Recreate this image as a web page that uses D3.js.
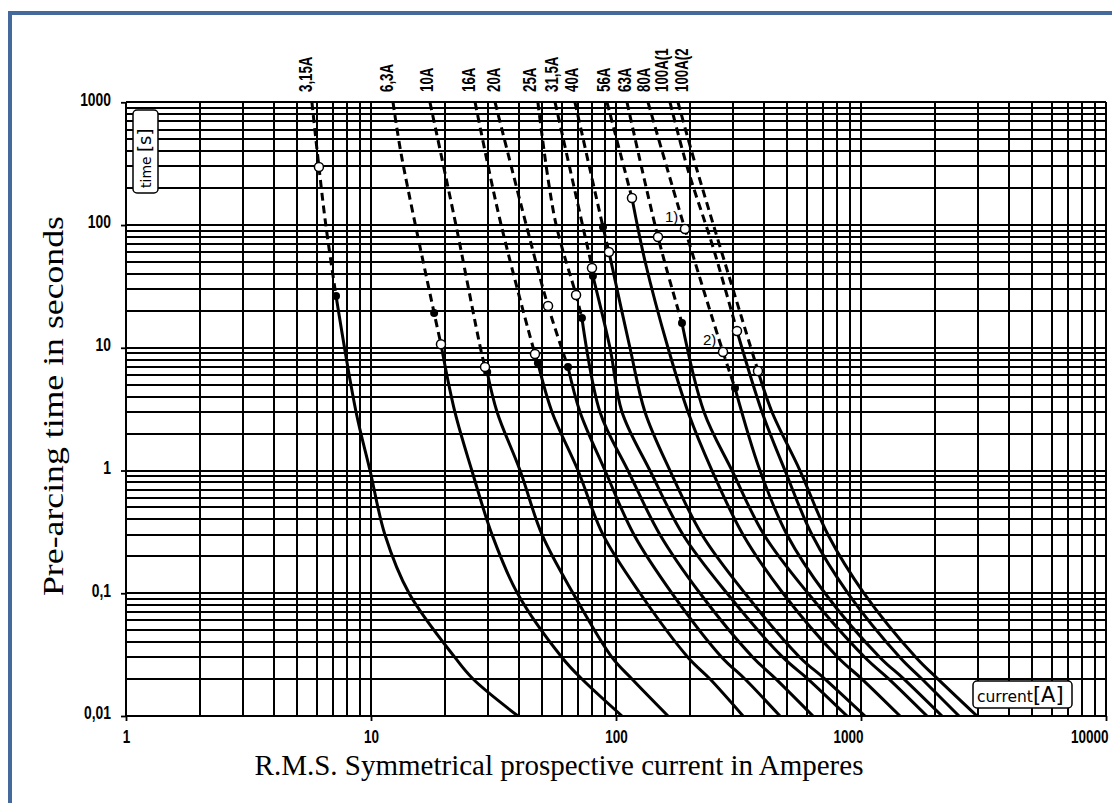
<!DOCTYPE html>
<html>
<head>
<meta charset="utf-8">
<script src="https://cdn.jsdelivr.net/npm/d3@7"></script>
<style>
  html, body { margin: 0; padding: 0; background: #fff; }
  svg { display: block; }
</style>
</head>
<body>
<svg id="chart" width="1112" height="803"></svg>
<script>
// Pre-arcing time / current characteristics of fuse-links, points as [current A, time s]
const fuse_3_15A = [[5.74,1000],[6.13,297],[6.54,100],[7.2,26.4],[8.69,3],[9.91,1],[11.4,0.3],[14.3,0.1],[22.0,0.03],[26.1,0.02],[39.8,0.01]];
const fuse_6_3A  = [[12.3,1000],[13.3,372],[18.1,19.2],[19.3,10.7],[22.0,3],[25.8,1],[31.2,0.3],[39.6,0.1],[60.2,0.03],[72.6,0.02],[105.8,0.01]];
const fuse_10A   = [[17.4,1000],[22.0,110],[29.2,6.97],[29.8,6.35],[32.7,3],[40.6,1],[49.9,0.3],[66.8,0.1],[96.3,0.03],[116.2,0.02],[163,0.01]];
const fuse_16A   = [[26.6,1000],[33.6,110],[46.7,8.90],[48.0,7.52],[54.8,3],[70.0,1],[88.5,0.3],[125.3,0.1],[196.8,0.03],[242,0.02],[330,0.01]];
const fuse_20A   = [[32.1,1000],[43.2,96.9],[52.8,21.9],[63.7,6.97],[71.3,3],[90.2,1],[118.4,0.3],[169.3,0.1],[270.8,0.03],[336,0.02],[467,0.01]];
const fuse_25A   = [[48.0,1000],[56.4,110],[68.7,26.9],[72.6,17.5],[86.0,3],[111.9,1],[151.2,0.3],[220.2,0.1],[362.4,0.03],[450,0.02],[637,0.01]];
const fuse_31_5A = [[56.4,1000],[73.3,96.4],[79.8,44.7],[80.5,38.4],[94.5,10],[105.8,3],[137.6,1],[187.7,0.3],[283.9,0.1],[480.4,0.03],[607.7,0.02],[877,0.01]];
const fuse_40A   = [[68.0,1000],[88.5,96.4],[93.6,60.3],[114.0,10],[131.3,3],[166.1,1],[224.4,0.3],[336,0.1],[563.6,0.03],[713,0.02],[1038,0.01]];
const fuse_56A   = [[91.9,1000],[116.2,166.1],[131.6,50],[163,10],[196.8,3],[246.5,1],[330,0.3],[480.4,0.1],[805.5,0.03],[1009,0.02],[1443,0.01]];
const fuse_63A   = [[110.9,1000],[148.4,79.9],[185.9,15.9],[228.7,3],[297.5,1],[401.9,0.3],[607.7,0.1],[1038,0.03],[1301,0.02],[1859,0.01]];
const fuse_80A   = [[135.1,1000],[191.2,92.8],[273.4,9.24],[306,4.70],[387,1],[498.9,0.3],[713,0.1],[1195,0.03],[1498,0.02],[2141,0.01]];
const fuse_100A_1 = [[166.1,1000],[196.8,280.8],[248.8,66.2],[311.8,13.7],[394.4,3],[489.6,1],[631,0.3],[885,0.1],[1443,0.03],[1774,0.02],[2512,0.01]];
const fuse_100A_2 = [[179.1,1000],[214.1,280.8],[379.8,6.47],[433.2,3],[563.6,1],[733.3,0.3],[1029,0.1],[1677,0.03],[2062,0.02],[2976,0.01]];

const fuseCurves = [fuse_3_15A, fuse_6_3A, fuse_10A, fuse_16A, fuse_20A, fuse_25A, fuse_31_5A,
                    fuse_40A, fuse_56A, fuse_63A, fuse_80A, fuse_100A_1, fuse_100A_2];
const fuseLabels = ["3,15A","6,3A","10A","16A","20A","25A","31,5A","40A","56A","63A","80A","100A(1","100A(2"];
// current under which each rating label stands
const labelCurrents = [5.77,12.3,17.9,26.6,33.6,47.2,57.8,69.9,94.9,114.6,137.7,163.4,196.8];
// last point of the dashed (upper) stretch of each curve
const dashedTo = [3,3,3,3,3,3,3,2,1,2,3,3,2];
// points of each curve marked with an open circle / a filled dot
const openAt   = [[1],[3],[2],[2],[2],[2],[2],[2],[1],[1],[1,2],[3],[2]];
const filledAt = [[3],[2],[3],[3],[3],[3],[3],[1],[],[2],[3],[],[]];

const xMajor = [1,10,100,1000,10000];
const xTickLabels = ["1","10","100","1000","10000"];
const yMajor = [1000,100,10,1,0.1,0.01];
const yTickLabels = ["1000","100","10","1","0,1","0,01"];

const svg = d3.select("#chart");
const W = 1112, H = 803;
svg.append("rect").attr("width", W).attr("height", H).attr("fill", "#fff");

// blue frame
svg.append("rect")
  .attr("x", 10).attr("y", 13).attr("width", 1130).attr("height", 820)
  .attr("fill", "none").attr("stroke", "#46699c").attr("stroke-width", 4);

const x = d3.scaleLog().domain([1, 10000]).range([126, 1106]);
const y = d3.scaleLog().domain([0.01, 1000]).range([716, 102.3]);

const grid = svg.append("g").attr("stroke", "#000").attr("stroke-width", 1.8).attr("shape-rendering", "crispEdges");
grid.selectAll("line.v").data(x.ticks()).join("line")
  .attr("class", "v")
  .attr("x1", d => Math.round(x(d))).attr("x2", d => Math.round(x(d)))
  .attr("y1", y(1000)).attr("y2", y(0.01));
grid.selectAll("line.h").data(y.ticks()).join("line")
  .attr("class", "h")
  .attr("x1", x(1)).attr("x2", x(10000))
  .attr("y1", d => Math.round(y(d))).attr("y2", d => Math.round(y(d)));

// axes: short outer ticks and condensed labels
const tickFont = "'Liberation Sans', Arial, sans-serif";
const squeeze = 0.73;
const yAxis = svg.append("g").attr("transform", `translate(${x(1)},0)`)
  .call(d3.axisLeft(y).tickValues(yMajor).tickSize(5).tickPadding(0)
        .tickFormat((d, i) => yTickLabels[i]));
yAxis.select(".domain").remove();
yAxis.selectAll(".tick line").attr("stroke", "#000").attr("stroke-width", 1.8);
yAxis.selectAll(".tick text")
  .attr("font-family", tickFont).attr("font-weight", "bold").attr("font-size", 19)
  .attr("fill", "#000").attr("text-anchor", "end")
  .attr("x", -15 / squeeze).attr("dy", "0.15em")
  .attr("transform", `scale(${squeeze},1)`);

const xAxis = svg.append("g").attr("transform", `translate(0,${y(0.01)})`)
  .call(d3.axisBottom(x).tickValues(xMajor).tickSize(5).tickPadding(0)
        .tickFormat((d, i) => xTickLabels[i]));
xAxis.select(".domain").remove();
xAxis.selectAll(".tick line").attr("stroke", "#000").attr("stroke-width", 1.8);
xAxis.selectAll(".tick text")
  .attr("font-family", tickFont).attr("font-weight", "bold").attr("font-size", 18.5)
  .attr("fill", "#000").attr("y", 27).attr("dy", 0)
  .attr("x", (d, i) => i >= 3 ? 2 / squeeze : 0)
  .attr("transform", `scale(${squeeze},1)`)
  .attr("text-anchor", (d, i) => i >= 3 ? "end" : "middle");

// fuse curves
const line = d3.line().x(d => x(d[0])).y(d => y(d[1])).curve(d3.curveCatmullRom.alpha(0.5));
const curves = svg.append("g").attr("fill", "none").attr("stroke", "#000").attr("stroke-width", 3);
fuseCurves.forEach((pts, i) => {
  curves.append("path").attr("d", line(pts.slice(0, dashedTo[i] + 1)))
    .attr("stroke-dasharray", "8,5");
  curves.append("path").attr("d", line(pts.slice(dashedTo[i])));
});

const marks = svg.append("g");
fuseCurves.forEach((pts, i) => {
  filledAt[i].forEach(k => marks.append("circle")
    .attr("cx", x(pts[k][0])).attr("cy", y(pts[k][1])).attr("r", 4).attr("fill", "#000"));
  openAt[i].forEach(k => marks.append("circle")
    .attr("cx", x(pts[k][0])).attr("cy", y(pts[k][1])).attr("r", 4.5)
    .attr("fill", "#fff").attr("stroke", "#000").attr("stroke-width", 1.5));
});

// rating labels above the grid
svg.append("g").selectAll("text").data(fuseLabels).join("text")
  .attr("transform", (d, i) => `translate(${x(labelCurrents[i])},92) rotate(-90) scale(0.7,1)`)
  .attr("font-family", tickFont).attr("font-weight", "bold").attr("font-size", 19).attr("fill", "#000")
  .text(d => d);

// footnote marks
svg.append("text").attr("x", 665).attr("y", 222).attr("font-family", tickFont)
  .attr("font-size", 15).text("1)");
svg.append("text").attr("x", 703).attr("y", 345).attr("font-family", tickFont)
  .attr("font-size", 15).text("2)");

// quantity boxes
const boxFont = "'DejaVu Sans', sans-serif";
svg.append("rect").attr("x", 133).attr("y", 110).attr("width", 25).attr("height", 83)
  .attr("rx", 4).attr("fill", "#fff").attr("stroke", "#000").attr("stroke-width", 1.5);
const tt = svg.append("text").attr("transform", "translate(151,188) rotate(-90)")
  .attr("font-family", boxFont).attr("fill", "#000");
tt.append("tspan").attr("font-size", 14).text("time ");
tt.append("tspan").attr("font-size", 18).text("[s]");

svg.append("rect").attr("x", 973).attr("y", 681).attr("width", 99).attr("height", 27)
  .attr("rx", 4).attr("fill", "#fff").attr("stroke", "#000").attr("stroke-width", 1.5);
const ct = svg.append("text").attr("x", 977).attr("y", 702)
  .attr("font-family", boxFont).attr("fill", "#000");
ct.append("tspan").attr("font-size", 15.5).text("current");
ct.append("tspan").attr("font-size", 21).text("[A]");

// axis titles
const serif = "'Liberation Serif', 'Times New Roman', serif";
svg.append("text").attr("x", 559).attr("y", 775).attr("text-anchor", "middle")
  .attr("font-family", serif).attr("font-size", 29).attr("fill", "#000")
  .text("R.M.S. Symmetrical prospective current in Amperes");
svg.append("text").attr("transform", "translate(63,406) rotate(-90)").attr("text-anchor", "middle")
  .attr("font-family", serif).attr("font-size", 30).attr("fill", "#000")
  .attr("textLength", 380).attr("lengthAdjust", "spacingAndGlyphs")
  .text("Pre-arcing time in seconds");
</script>
</body>
</html>
